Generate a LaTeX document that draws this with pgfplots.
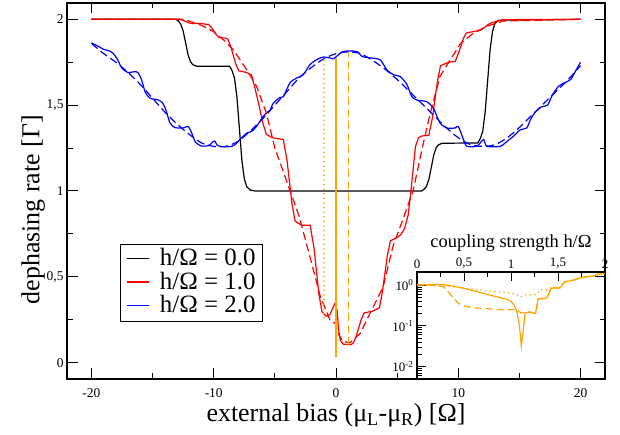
\documentclass[border=0pt]{standalone}
\usepackage{fontspec}
\setmainfont{Liberation Serif}
\usepackage{pgfplots}
\pgfplotsset{compat=1.18}
\definecolor{myorange}{RGB}{255,165,0}
\definecolor{legblue}{RGB}{0,0,255}
\definecolor{legred}{RGB}{255,0,0}
\newcommand{\legline}[1]{\textcolor{#1}{\rule[6.5bp]{22bp}{1.4bp}}\hspace{11bp}}
\begin{document}
\begin{tikzpicture}
\useasboundingbox (-67bp,-56bp) rectangle (553bp,379bp);
\begin{axis}[
  at={(0bp,0bp)}, anchor=south west,
  scale only axis, width=538bp, height=376bp,
  xmin=-22, xmax=22, ymin=-0.095, ymax=2.095,
  xtick={-20,-10,0,10,20}, xticklabels={-20,-10,0,10,20},
  minor xtick={-15,-5,5,15},
  ytick={0,0.5,1,1.5,2}, yticklabels={0,{0,5},1,{1,5},2},
  minor ytick={0.25,0.75,1.25,1.75},
  tick align=inside,
  major tick length=10.5bp, minor tick length=5.5bp,
  every tick/.style={black, line width=1bp},
  axis line style={line width=1.3bp},
  /pgf/number format/assume math mode=true,
  tick label style={font=\fontsize{13.5}{16}\selectfont},
  xticklabel style={yshift=-6bp},
  xlabel={external bias (μ\textsubscript{L}-μ\textsubscript{R}) [Ω]},
  ylabel={dephasing rate [Γ]},
  xlabel style={font=\fontsize{26}{30}\selectfont, yshift=1bp},
  every axis y label/.style={at={(axis description cs:-0.063,0.45)}, rotate=90, anchor=center, font=\fontsize{26}{30}\selectfont},
  legend style={at={(axis description cs:0.0985,0.152)}, anchor=south west,
    draw=black, line width=1bp, font=\fontsize{25}{25}\selectfont,
    inner xsep=6.5bp, inner ysep=3bp, row sep=0pt, column sep=0pt,
    nodes={inner sep=0bp, text height=18bp, text depth=5.5bp}},
  legend cell align=left,
  every axis plot/.append style={line width=1.2bp},
]
% h = 0
\addplot[black, forget plot] coordinates {
(-20,2) (-13.1,2) (-12.9,1.991) (-12.7,1.973) (-12.5,1.932) (-12.3,1.863) (-12.1,1.794) (-11.9,1.753) (-11.7,1.735) (-11.4,1.727) (-8.7,1.726)
(-8.5,1.701) (-8.3,1.657) (-8.1,1.546) (-7.9,1.363) (-7.7,1.180) (-7.5,1.071) (-7.3,1.025) (-7.0,1.005) (-6.6,1.0) (7.0,1.0)
(7.2,1.010) (7.4,1.027) (7.6,1.069) (7.8,1.14) (8.0,1.211) (8.2,1.253) (8.4,1.270) (8.7,1.278) (11.6,1.28)
(11.8,1.305) (12.0,1.348) (12.2,1.459) (12.4,1.64) (12.6,1.821) (12.8,1.929) (13.0,1.976) (13.3,1.995) (20,2.0)
};
% h = 1 solid
\addplot[red, forget plot] coordinates {
(-20,2.0) (-12.8,2.0) (-12.5,1.994) (-12.3,1.988) (-12.1,1.981) (-11.85,1.976) (-11,1.975) (-10.5,1.97)
(-10.45,1.971) (-10.2,1.954) (-10.0,1.933) (-9.8,1.911) (-9.55,1.894) (-9.0,1.89) (-8.85,1.885)
(-8.6,1.84) (-8.4,1.79) (-8.2,1.74) (-7.95,1.70) (-7.3,1.69) (-6.9,1.675)
(-6.6,1.59) (-6.3,1.50) (-6.0,1.40) (-5.7,1.33) (-5.2,1.31) (-4.3,1.30)
(-4.25,1.275) (-4.0,1.175) (-3.8,1.05) (-3.6,0.925) (-3.35,0.825) (-2.8,0.80) (-2.1,0.80)
(-2.05,0.774) (-1.8,0.668) (-1.6,0.535) (-1.4,0.40) (-1.15,0.297) (-0.8,0.27) (-0.5,0.28)
(-0.25,0.32) (-0.05,0.35) (0.1,0.30) (0.2,0.20) (0.35,0.13) (0.6,0.108) (1.2,0.105) (1.4,0.112)
(1.65,0.154) (1.85,0.20) (2.05,0.25) (2.3,0.29) (3.0,0.30) (3.55,0.32)
(3.8,0.415) (4.0,0.52) (4.2,0.625) (4.45,0.71) (5.0,0.73) (5.3,0.745)
(5.6,0.78) (5.9,0.86) (6.1,0.98) (6.3,1.12) (6.5,1.26) (6.75,1.31) (7.0,1.32) (7.6,1.325)
(7.65,1.346) (7.9,1.43) (8.1,1.54) (8.3,1.64) (8.55,1.73) (9.2,1.75) (9.75,1.755)
(10.0,1.80) (10.2,1.84) (10.4,1.886) (10.65,1.92) (11.3,1.93) (11.75,1.935)
(12.0,1.945) (12.2,1.955) (12.4,1.968) (12.65,1.978) (13.2,1.99) (13.7,1.998) (20,2.0)
};
% h = 2 solid
\addplot[blue, smooth, tension=0.4, forget plot] coordinates {
(-20,1.862) (-19.5,1.845) (-19.0,1.825) (-18.5,1.815) (-18.2,1.80) (-17.9,1.77) (-17.5,1.715) (-17.0,1.69) (-16.5,1.695) (-16.2,1.69)
(-15.9,1.648) (-15.6,1.575) (-15.2,1.54) (-14.6,1.532) (-14.2,1.515) (-13.9,1.47) (-13.6,1.40) (-13.2,1.37) (-12.5,1.367) (-12.1,1.376)
(-11.8,1.338) (-11.5,1.285) (-11.0,1.262) (-10.4,1.265) (-10.1,1.285) (-9.9,1.29) (-9.7,1.265) (-9.2,1.258) (-8.5,1.26) (-8.1,1.28)
(-7.87,1.30) (-7.3,1.337) (-6.9,1.347) (-6.5,1.376) (-5.96,1.434) (-5.6,1.46) (-5.4,1.47) (-5.14,1.51) (-4.6,1.545) (-4.3,1.55)
(-3.77,1.63) (-3.22,1.658) (-2.68,1.677) (-2.13,1.736) (-1.58,1.765) (-1.04,1.78) (-0.5,1.775) (-0.22,1.77) (0.05,1.784) (0.6,1.813)
(1.7,1.813) (2.13,1.784) (2.8,1.775) (3.6,1.765) (4.16,1.706) (4.7,1.677) (5.25,1.667) (5.8,1.62) (6.2,1.55) (6.6,1.53)
(7.43,1.52) (7.98,1.48) (8.5,1.396) (9.07,1.367) (9.75,1.367) (10.0,1.376) (10.43,1.30) (10.7,1.26) (11.5,1.26) (11.8,1.28)
(12.07,1.30) (12.35,1.26) (13.44,1.26) (14.0,1.29) (14.5,1.318) (15.08,1.357) (15.6,1.367) (15.9,1.415) (16.3,1.46) (16.8,1.49)
(17.3,1.50) (17.7,1.56) (18.2,1.61) (18.7,1.63) (19.2,1.65) (19.6,1.70) (20,1.75)
};
% h = 1 dashed
\addplot[red, dash pattern=on 8bp off 4bp, forget plot] coordinates {
(-20,2) (-12.5,2.0) (-12.2,1.994) (-11,1.965) (-10.05,1.93) (-9.2,1.88) (-8.4,1.823) (-7.3,1.706) (-6.5,1.61) (-5.7,1.454)
(-5.0,1.25) (-4.0,1.05) (-3.0,0.85) (-2.0,0.58) (-1.3,0.39) (-0.5,0.25) (-0.08,0.23) (0.25,0.16) (0.57,0.124) (1.15,0.116)
(1.97,0.17) (2.8,0.29) (3.85,0.44) (4.67,0.68) (5.5,0.84) (6.3,1.0) (7.15,1.28) (7.7,1.45) (8.5,1.667) (9.35,1.765)
(10.2,1.86) (11.25,1.92) (12.35,1.96) (13.7,1.99) (20,2.0)
};
% h = 2 dashed
\addplot[blue, dash pattern=on 8bp off 4bp, smooth, forget plot] coordinates {
(-20,1.86) (-19,1.80) (-18,1.75) (-17,1.69) (-16,1.62) (-15,1.54) (-14,1.46) (-13,1.39) (-12,1.33) (-11,1.28)
(-10,1.26) (-9,1.26) (-8,1.29) (-7,1.35) (-6,1.42) (-5,1.50) (-4,1.58) (-3,1.66) (-2,1.72) (-1,1.77)
(0,1.80) (1,1.81) (2,1.80) (3,1.76) (4,1.71) (5,1.65) (6,1.58) (7,1.51) (8,1.44) (9,1.37)
(10,1.31) (11,1.27) (12,1.26) (13,1.27) (14,1.31) (15,1.37) (16,1.44) (17,1.51) (18,1.58) (19,1.65) (20,1.73)
};
% orange vertical ranges
\addplot[myorange, line cap=round, dash pattern=on 0.1bp off 4.5bp, line width=1.6bp, forget plot] coordinates {(-1,0.26) (-1,1.78)};
\addplot[myorange, forget plot] coordinates {(0,0.035) (0,1.776)};
\addplot[myorange, dash pattern=on 8bp off 4bp, forget plot] coordinates {(1,0.105) (1,1.81)};
\addlegendimage{empty legend}
\addlegendentry{\legline{black}h/Ω = 0.0}
\addlegendimage{empty legend}
\addlegendentry{\legline{legred}h/Ω = 1.0}
\addlegendimage{empty legend}
\addlegendentry{\legline{legblue}h/Ω = 2.0}
\end{axis}
% inset
\begin{axis}[
  at={(350bp,0bp)}, anchor=south west,
  scale only axis, width=188bp, height=107bp,
  xmin=0, xmax=2, ymode=log, ymin=0.005, ymax=2.1,
  xtick={0,0.5,1,1.5,2}, xticklabels={0,{0,5},1,{1,5},2},
  minor xtick={0.25,0.75,1.25,1.75},
  xtick pos=right, xticklabel pos=right,
  ytick={0.01,0.1,1}, yticklabels={10\textsuperscript{-2},10\textsuperscript{-1},10\textsuperscript{0}},
  minor ytick={0.006,0.007,0.008,0.009,0.02,0.03,0.04,0.05,0.06,0.07,0.08,0.09,0.2,0.3,0.4,0.5,0.6,0.7,0.8,0.9,2},
  ytick pos=left,
  tick align=inside,
  major tick length=9bp, minor tick length=5bp,
  every tick/.style={black, line width=1bp},
  axis line style={line width=1.3bp},
  tick label style={font=\fontsize{13}{15}\selectfont},
  xlabel={coupling strength h/Ω},
  xlabel style={font=\fontsize{18.5}{20}\selectfont},
  every axis plot/.append style={line width=1.2bp},
]
\addplot[myorange] coordinates {
(0,1.0) (0.15,1.03) (0.28,1.04) (0.4,0.93) (0.53,0.80) (0.65,0.68) (0.78,0.57) (0.9,0.48) (0.97,0.44) (1.0,0.40)
(1.03,0.33) (1.06,0.24) (1.09,0.10) (1.11,0.032) (1.13,0.08) (1.15,0.21) (1.2,0.22) (1.26,0.20) (1.29,0.46) (1.38,0.48)
(1.43,0.85) (1.52,0.85) (1.57,1.2) (1.66,1.32) (1.73,1.48) (1.79,1.59) (1.87,1.66) (1.91,1.82) (2.0,1.93)
};
\addplot[myorange, dash pattern=on 7bp off 4bp] coordinates {
(0,1.04) (0.15,1.0) (0.28,0.92) (0.33,0.70) (0.38,0.50) (0.44,0.36) (0.49,0.31) (0.6,0.28) (0.7,0.27) (0.85,0.255)
(0.94,0.245) (1.0,0.25) (1.06,0.26) (1.1,0.21) (1.15,0.21) (1.2,0.22) (1.26,0.20) (1.29,0.46) (1.38,0.48)
(1.43,0.85) (1.52,0.85) (1.57,1.2) (1.66,1.32) (1.73,1.48) (1.79,1.59) (1.87,1.66) (1.91,1.82) (2.0,1.93)
};
\addplot[myorange, line cap=round, dash pattern=on 0.1bp off 4.5bp, line width=1.6bp] coordinates {
(0,1.0) (0.28,0.96) (0.53,0.83) (0.78,0.71) (0.99,0.64) (1.05,0.6) (1.10,0.51) (1.15,0.57) (1.27,0.59) (1.31,0.78)
(1.38,0.76) (1.43,0.87) (1.51,0.85) (1.57,1.2) (1.66,1.32) (1.73,1.48) (1.79,1.59) (1.87,1.66) (1.91,1.82) (2.0,1.93)
};
\end{axis}
\end{tikzpicture}
\end{document}
